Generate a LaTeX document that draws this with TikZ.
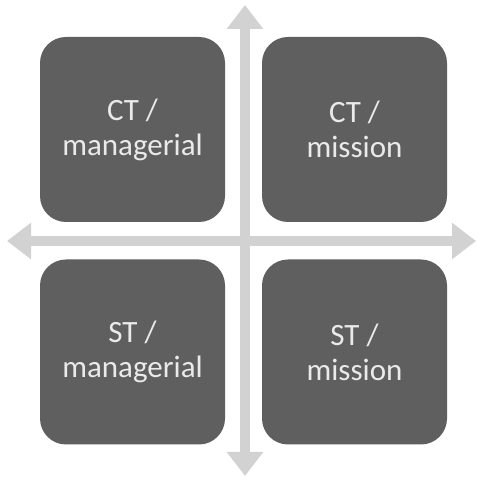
\documentclass[tikz,border=0pt]{standalone}
\usepackage{fontspec}
\setmainfont{Carlito}
\usetikzlibrary{arrows.meta,positioning}
\definecolor{boxgray}{HTML}{5F5F5F}
\definecolor{axisgray}{HTML}{D2D2D2}
\definecolor{textgray}{HTML}{EAEAEA}
\tikzset{
  quadrant/.style={align=center,rectangle,fill=boxgray,rounded corners=26pt,
    minimum width=185pt,minimum height=185pt,text=textgray,
    font=\fontsize{31}{35}\selectfont},
  axis/.style={draw=axisgray,line width=10pt,
    {Triangle[width=35pt,length=24pt]}-{Triangle[width=35pt,length=24pt]}}
}
\begin{document}
\begin{tikzpicture}[x=1pt,y=1pt]
    \useasboundingbox[fill=white] (0,0) rectangle (477,479);
    \node at (132.5, 349.5) [quadrant] (CTman) {CT /\\managerial};
    \node at (354.5, 349.5) [quadrant] (CTmis) {CT /\\mission};
    \node at (132.5, 127) [quadrant] (STman) {ST /\\managerial};
    \node at (354.5, 127) [quadrant] (STmis) {ST /\\mission};

    \coordinate (top) at (245, 474);
    \coordinate (bottom) at (245, 3);
    \coordinate (left) at (7, 238);
    \coordinate (right) at (476, 238);

    \draw[axis] (bottom) -- (top);
    \draw[axis] (left) -- (right);
\end{tikzpicture}
\end{document}
